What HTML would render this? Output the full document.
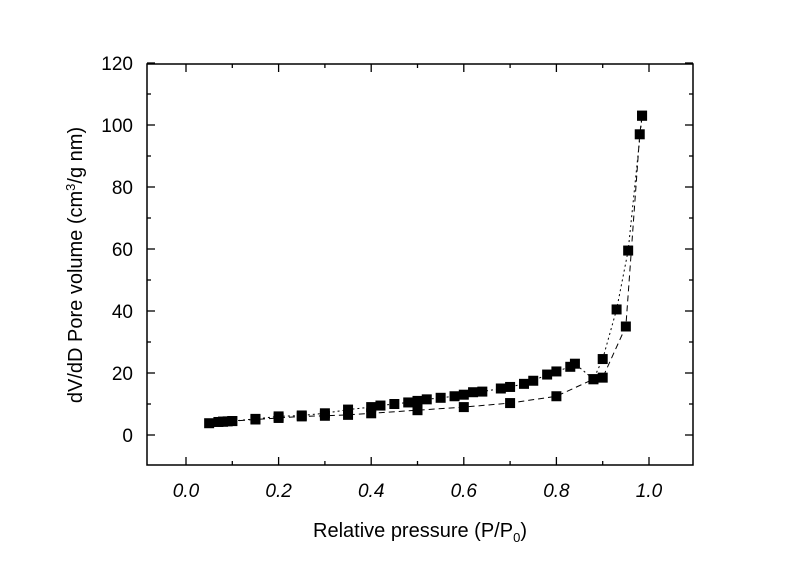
<!DOCTYPE html>
<html><head><meta charset="utf-8"><style>
html,body{margin:0;padding:0;background:#fff;}
svg text{font-family:"Liberation Sans",Arial,sans-serif;fill:#000;}
</style></head><body>
<svg id="chart" width="800" height="561" viewBox="0 0 800 561">
<g id="axes"></g><g id="series"></g>
<text x="420" y="537" font-size="20" text-anchor="middle">Relative pressure (P/P<tspan font-size="13" dy="5">0</tspan><tspan dy="-5">)</tspan></text>
<text transform="translate(82,265) rotate(-90)" font-size="20" text-anchor="middle">dV/dD Pore volume (cm<tspan font-size="13" dy="-7">3</tspan><tspan dy="7">/g nm)</tspan></text>
</svg>
<script>
const adsX=[0.05,0.07,0.08,0.09,0.1,0.15,0.2,0.25,0.3,0.35,0.4,0.5,0.6,0.7,0.8,0.88,0.9,0.95,0.98,0.985];
const adsY=[3.8,4.2,4.3,4.4,4.5,5,5.5,6,6.2,6.5,7,8,9,10.3,12.5,18,18.5,35,97,103];
const desX=[0.985,0.955,0.93,0.9,0.88,0.84,0.83,0.8,0.78,0.75,0.73,0.7,0.68,0.64,0.62,0.6,0.58,0.55,0.52,0.5,0.48,0.45,0.42,0.4,0.35,0.3,0.25,0.2,0.15,0.1,0.08];
const desY=[103,59.5,40.5,24.5,18,23,22,20.5,19.5,17.5,16.5,15.5,15,14,13.8,13,12.5,12,11.5,11,10.5,10,9.5,9,8.2,7,6.3,6,5.2,4.5,4.3];
const xTicks=[0.0,0.2,0.4,0.6,0.8,1.0];
const yTicks=[0,20,40,60,80,100,120];
const L=147,R=693,T=64,B=465;
const sx=v=>186+v*463, sy=v=>435-v*3.1;
const NS="http://www.w3.org/2000/svg";
function mk(p,tag,a){const e=document.createElementNS(NS,tag);for(const k in a)e.setAttribute(k,a[k]);p.appendChild(e);return e;}
const ax=document.getElementById('axes');
const fr=mk(ax,'rect',{x:L,y:T,width:R-L,height:B-T,fill:'none',stroke:'#000','stroke-width':1.5});


for(let i=0;i<=10;i++){const x=sx(i/10);const len=(i%2===0)?8:4;
 mk(ax,'line',{x1:x,x2:x,y1:B,y2:B-len,stroke:'#000','stroke-width':1.3});mk(ax,'line',{x1:x,x2:x,y1:T,y2:T+len,stroke:'#000','stroke-width':1.3});}
for(let v=0;v<=120;v+=10){const y=sy(v);const len=v%20===0?8:4;
 mk(ax,'line',{x1:L,x2:L+len,y1:y,y2:y,stroke:'#000','stroke-width':1.3});mk(ax,'line',{x1:R,x2:R-len,y1:y,y2:y,stroke:'#000','stroke-width':1.3});}
xTicks.forEach(v=>{const t=mk(ax,'text',{x:sx(v),y:497,'font-size':19,'font-style':'italic','text-anchor':'middle'});t.textContent=v.toFixed(1);
 
 });
yTicks.forEach(v=>{const t=mk(ax,'text',{x:133,y:sy(v)+7,'font-size':19,'text-anchor':'end'});t.textContent=v;
 
 });
const sg=document.getElementById('series');
function series(xs,ys,name,dash){
 const g=mk(sg,'g',{});
 
 
 mk(g,'polyline',{points:xs.map((x,i)=>sx(x)+','+sy(ys[i])).join(' '),fill:'none',stroke:'#000','stroke-width':1,'stroke-dasharray':dash});
 xs.forEach((x,i)=>{const r=mk(g,'rect',{x:sx(x)-5,y:sy(ys[i])-5,width:10,height:10,fill:'#000'});
  
  });
}
series(adsX,adsY,'adsorption-series','6,4');
series(desX,desY,'desorption-series','2,3');
</script>
</body></html>
